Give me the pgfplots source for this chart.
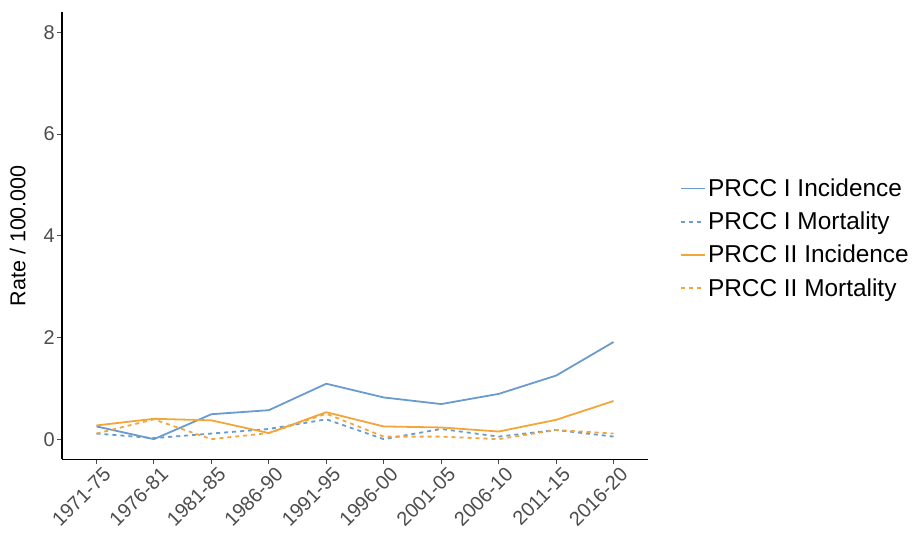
\documentclass[border=0pt]{standalone}
\usepackage{fontspec}
\setmainfont{Liberation Sans}
\usepackage{pgfplots}
\pgfplotsset{compat=1.18}
\definecolor{prccblue}{RGB}{106,155,206}
\definecolor{prccorange}{RGB}{242,166,58}
\definecolor{tickgrey}{RGB}{77,77,77}

\begin{document}
\begin{tikzpicture}[x=1bp,y=1bp]
\path[use as bounding box] (0,0) rectangle (919,540);
\begin{axis}[
  at={(62bp,80.5bp)}, anchor=south west,
  scale only axis, width=586bp, height=447.5bp,
  xmin=-0.6, xmax=9.6, ymin=-0.4, ymax=8.4,
  axis lines=left,
  axis line style={-, black, line width=1.3bp},
  xtick={0,...,9},
  xticklabels={1971-75,1976-81,1981-85,1986-90,1991-95,1996-00,2001-05,2006-10,2011-15,2016-20},
  ytick={0,2,4,6,8},
  tick align=outside, major tick length=5bp,
  tick style={tickgrey, line width=1bp},
  /pgf/number format/assume math mode=true,
  x tick label style={rotate=45, anchor=north east, inner sep=1bp,
    xshift=4bp, yshift=-4bp,
    font=\fontsize{20}{22}\selectfont, text=tickgrey},
  y tick label style={font=\fontsize{20}{22}\selectfont, text=tickgrey, inner sep=2bp},
  ylabel={Rate / 100.000},
  ylabel style={at={(axis description cs:-0.0623,0.5)}, anchor=base, inner sep=0pt,
    font=\fontsize{21.6}{26}\selectfont},
  legend style={at={(1,0.5)}, anchor=west, xshift=32bp, yshift=-2.5bp, draw=none, fill=none,
    inner sep=0pt, font=\fontsize{24.5}{29}\selectfont,
    cells={anchor=west}, row sep=10bp},
  legend image code/.code={\draw[#1, line width=1.8bp] (0bp,0bp) -- (24bp,0bp);},
]
% PRCC I incidence
\addplot[prccblue, solid, line width=1.8bp] coordinates {
  (0,0.25) (1,0.00) (2,0.49) (3,0.57) (4,1.09)
  (5,0.82) (6,0.69) (7,0.89) (8,1.25) (9,1.91)};
\addlegendentry{PRCC I Incidence}
% PRCC I mortality
\addplot[prccblue, line width=1.8bp, dash pattern=on 4bp off 4bp] coordinates {
  (0,0.11) (1,0.02) (2,0.11) (3,0.20) (4,0.39)
  (5,0.00) (6,0.20) (7,0.05) (8,0.18) (9,0.05)};
\addlegendentry{PRCC I Mortality}
% PRCC II incidence
\addplot[prccorange, solid, line width=1.8bp] coordinates {
  (0,0.27) (1,0.40) (2,0.37) (3,0.12) (4,0.53)
  (5,0.25) (6,0.23) (7,0.15) (8,0.38) (9,0.75)};
\addlegendentry{PRCC II Incidence}
% PRCC II mortality
\addplot[prccorange, line width=1.8bp, dash pattern=on 4bp off 4bp] coordinates {
  (0,0.11) (1,0.39) (2,0.00) (3,0.12) (4,0.50)
  (5,0.05) (6,0.05) (7,0.00) (8,0.18) (9,0.11)};
\addlegendentry{PRCC II Mortality}
\end{axis}
\end{tikzpicture}
\end{document}
